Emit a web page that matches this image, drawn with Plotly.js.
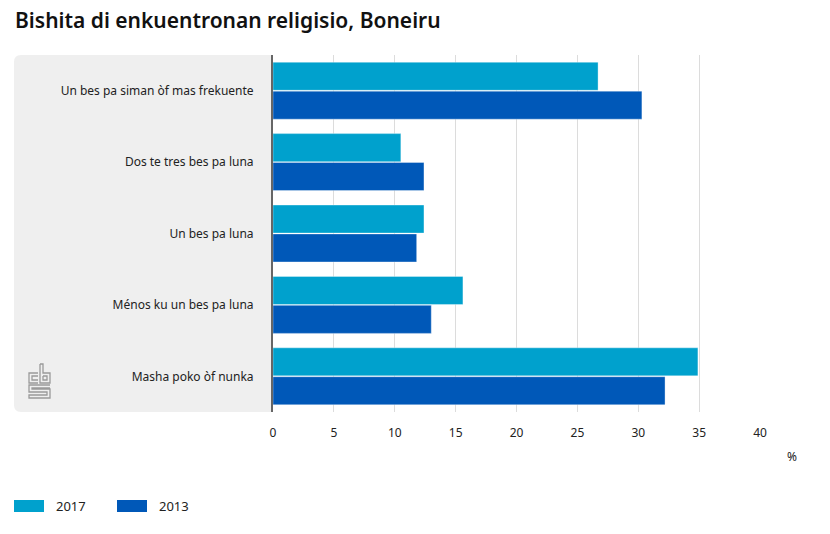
<!DOCTYPE html>
<html><head><meta charset="utf-8">
<script src="https://cdn.plot.ly/plotly-3.0.1.min.js"></script>
<style>html,body{margin:0;padding:0;background:#fff}#chart{width:830px;height:534px}</style>
</head><body><div id="chart"></div>
<script>
const categories = ["Un bes pa siman òf mas frekuente","Dos te tres bes pa luna","Un bes pa luna","Ménos ku un bes pa luna","Masha poko òf nunka"];
const seriesNames = ["2017","2013"];
const values2017 = [26.7, 10.5, 12.4, 15.6, 34.9];
const values2013 = [30.3, 12.4, 11.8, 13.0, 32.2];
const colors = ["#00a1cd","#0058b8"];
const xTicks = [0,5,10,15,20,25,30,35,40];

const W=830,H=534,L=273,R=70,T=55,B=122;
const pw=W-L-R, ph=H-T-B;
const px=x=>(x-L)/pw, py=y=>(H-B-y)/ph;
const font="Noto Sans, sans-serif";

const traces=[values2017,values2013].map((v,i)=>({
  type:'bar',orientation:'h',name:seriesNames[i],x:v,y:categories,
  marker:{color:colors[i],line:{color:'rgba(255,255,255,0.35)',width:1}},
  hoverinfo:'x+y',showlegend:false
}));

// gray rounded panel
const r=7, x0=14, x1=L, y0=T, y1=H-B;
const panelPath=`M ${px(x1)},${py(y0)} L ${px(x0+r)},${py(y0)} Q ${px(x0)},${py(y0)} ${px(x0)},${py(y0+r)} L ${px(x0)},${py(y1-r)} Q ${px(x0)},${py(y1)} ${px(x0+r)},${py(y1)} L ${px(x1)},${py(y1)} Z`;
const shapes=[{type:'path',xref:'paper',yref:'paper',path:panelPath,fillcolor:'#efefef',line:{width:0},layer:'below'}];

// logo (cbs) strokes
function poly(pts){return 'M '+pts.map(p=>px(p[0])+','+py(p[1])).join(' L ');}
const logoLines=[
  [[38,373],[29,373],[29,383],[38,383]],
  [[38,376],[32,376],[32,380],[38,380]],
  [[40,364],[40,383],[50,383],[50,373],[43,373],[43,364],[40,364]],
  [[43,376],[47,376],[47,380],[43,380],[43,376]],
  [[50,385],[29,385],[29,392],[47,392],[47,395],[29,395],[29,398],[50,398],[50,389],[32,389],[32,388],[50,388]]
];
logoLines.forEach(p=>shapes.push({type:'path',xref:'paper',yref:'paper',path:poly(p),line:{color:'#9a9a9a',width:1.3}}));

// legend swatches
const legX=[14,117];
const annotations=[
  {xref:'paper',yref:'paper',x:px(13),y:py(20),xanchor:'left',yanchor:'middle',showarrow:false,
   text:'Bishita di enkuentronan religisio, Boneiru',font:{family:font,size:21,weight:600,color:'#111'}},
  {xref:'paper',yref:'paper',x:px(799),y:py(456),xanchor:'right',yanchor:'middle',showarrow:false,
   text:'%',font:{family:font,size:12,color:'#222'}}
];
seriesNames.forEach((n,i)=>{
  shapes.push({type:'rect',xref:'paper',yref:'paper',x0:px(legX[i]),x1:px(legX[i]+30),y0:py(500),y1:py(512),fillcolor:colors[i],line:{width:0}});
  annotations.push({xref:'paper',yref:'paper',x:px(legX[i]+40),y:py(506),xanchor:'left',yanchor:'middle',showarrow:false,
    text:n,font:{family:font,size:13,color:'#222'}});
});

const layout={
  width:W,height:H,margin:{l:L,r:R,t:T,b:B,pad:0},
  paper_bgcolor:'#fff',plot_bgcolor:'rgba(0,0,0,0)',
  font:{family:font,size:12,color:'#222'},
  barmode:'group',bargap:0.19,bargroupgap:0.03,
  xaxis:{range:[0,40],tickvals:xTicks,ticktext:xTicks.map(String),showgrid:true,gridcolor:'#dcdcdc',gridwidth:1,
    zeroline:false,showline:false,ticks:'',ticklabelstandoff:12,tickfont:{family:font,size:12,color:'#222'},fixedrange:true},
  yaxis:{autorange:'reversed',showgrid:false,zeroline:false,showline:true,linecolor:'#666',linewidth:2,
    ticks:'',ticklabelstandoff:15,tickfont:{family:font,size:12,color:'#222'},fixedrange:true},
  shapes:shapes,annotations:annotations,showlegend:false
};
Plotly.newPlot('chart',traces,layout,{displayModeBar:false,staticPlot:true});
</script></body></html>
